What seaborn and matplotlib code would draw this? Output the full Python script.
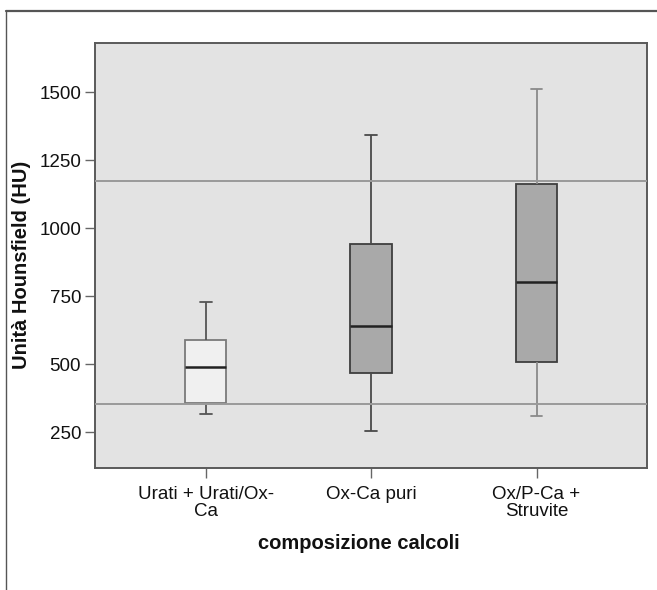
import numpy as np
import pandas as pd
import matplotlib
matplotlib.use("Agg")
import matplotlib.pyplot as plt
from matplotlib.lines import Line2D
import seaborn as sns

# ---- data ----
categories = ["Urati + Urati/Ox-\nCa", "Ox-Ca puri", "Ox/P-Ca +\nStruvite"]
whisker_low = [318, 255, 311]
q1 = [356, 466, 507]
median = [489, 639, 803]
q3 = [587, 941, 1163]
whisker_high = [728, 1341, 1512]
ref_lines = [352, 1175]
yticks = [250, 500, 750, 1000, 1250, 1500]
box_colors = ["#F0F0F0", "#A9A9A9", "#A9A9A9"]
edge_colors = ["#7A7A7A", "#3E3E3E", "#3E3E3E"]
whisker_colors = ["#555555", "#4A4A4A", "#8A8A8A"]

# five-number summaries -> long table (quartiles of 5 points are exact)
rows = []
for c, a, b, m, d, e in zip(categories, whisker_low, q1, median, q3, whisker_high):
    for v in (a, b, m, d, e):
        rows.append({"composizione": c, "HU": v})
df = pd.DataFrame(rows)

sns.set_theme(style="white")
plt.rcParams["font.family"] = ["Liberation Sans", "DejaVu Sans"]

fig = plt.figure(figsize=(6.57, 5.90), dpi=100)
ax = fig.add_axes([95 / 657, 1 - 468 / 590, (646.5 - 95) / 657, (468 - 43.3) / 590])
ax.set_facecolor("#E3E3E3")

sns.boxplot(data=df, x="composizione", y="HU", hue="composizione",
            order=categories, hue_order=categories, palette=box_colors,
            width=0.25, whis=(0, 100), showfliers=False, legend=False,
            linecolor="#444444", linewidth=1.3,
            medianprops={"color": "#222222", "linewidth": 1.8},
            capwidths=0.07, ax=ax)

# per-box edge / whisker shades like the original
for p in ax.patches:
    try:
        verts = p.get_transform().transform(p.get_path().vertices)
        xd = ax.transData.inverted().transform(verts.mean(axis=0))[0]
        i = int(round(xd))
        if 0 <= i < 3:
            p.set_edgecolor(edge_colors[i])
    except Exception:
        pass
for ln in ax.lines:
    xd = np.asarray(ln.get_xdata(), dtype=float)
    yd = np.asarray(ln.get_ydata(), dtype=float)
    if len(xd) == 0:
        continue
    i = int(round(xd.mean()))
    if not (0 <= i < 3):
        continue
    if np.allclose(yd, median[i]):
        continue
    ln.set_color(whisker_colors[i])

for y in ref_lines:
    ax.axhline(y, color="#9A9A9A", linewidth=1.4, zorder=5)

ax.set_xlim(-0.67, 2.665)
ax.set_ylim(118, 1680)
ax.set_yticks(yticks)
ax.set_yticklabels([str(t) for t in yticks])

ax.tick_params(axis="both", which="both", direction="out", length=7, width=1.0,
               color="#666666", labelsize=13.5, labelcolor="#111111",
               left=True, bottom=True)
ax.tick_params(axis="y", pad=3)
ax.tick_params(axis="x", pad=6)
for s in ax.spines.values():
    s.set_color("#5A5A5A")
    s.set_linewidth(1.4)

ax.set_xlabel("composizione calcoli", fontsize=14.5, fontweight="bold",
              color="#111111")
ax.set_ylabel("Unità Hounsfield (HU)", fontsize=14.5, fontweight="bold",
              color="#111111")
ax.xaxis.set_label_coords((359 - 95) / 551.5, -(534 - 468) / 425)
ax.yaxis.set_label_coords((31 - 95) / 551.5, (468 - 265) / 425)
for lab in ax.get_xticklabels():
    lab.set_linespacing(1.0)

# outer frame fragments (top and left borders)
fig.add_artist(Line2D([6 / 657, 1.0], [1 - 10.7 / 590, 1 - 10.7 / 590],
                      transform=fig.transFigure, color="#555555", linewidth=1.6))
fig.add_artist(Line2D([6 / 657, 6 / 657], [0.0, 1 - 10.7 / 590],
                      transform=fig.transFigure, color="#555555", linewidth=1.0))

fig.savefig("out.png", dpi=100, facecolor="white")
